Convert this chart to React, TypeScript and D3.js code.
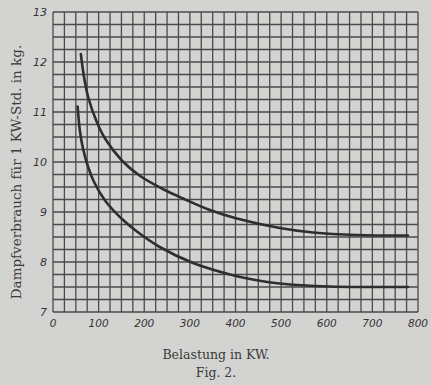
import { useRef, useEffect } from 'react'
import * as d3 from 'd3'

// Belastung in KW / Dampfverbrauch in kg
const upperLoad = [61, 68, 77, 96, 114, 151, 191, 245, 285, 344, 403, 497, 570, 666, 778]
const upperSteam = [12.16, 11.7, 11.3, 10.8, 10.47, 10.03, 9.72, 9.44, 9.27, 9.04, 8.87, 8.68, 8.59, 8.54, 8.53]
const lowerLoad = [54, 59, 66, 77, 90, 114, 150, 184, 234, 307, 388, 432, 497, 607, 778]
const lowerSteam = [11.11, 10.62, 10.26, 9.9, 9.6, 9.23, 8.87, 8.61, 8.3, 7.98, 7.75, 7.66, 7.57, 7.51, 7.5]

const xTicks = [0, 100, 200, 300, 400, 500, 600, 700, 800]
const yTicks = [7, 8, 9, 10, 11, 12, 13]

const W = 431
const H = 385

const App = () => {
  const svgRef = useRef<SVGSVGElement>(null)

  useEffect(() => {
    if (!svgRef.current) return
    const svg = d3.select(svgRef.current)
    svg.selectAll('*').remove()

    const margin = { top: 12, right: 13, bottom: 73, left: 53 }
    const innerW = W - margin.left - margin.right
    const innerH = H - margin.top - margin.bottom

    svg.append('rect').attr('width', W).attr('height', H).attr('fill', '#d3d3d1')

    const x = d3.scaleLinear().domain([0, 800]).range([0, innerW])
    const y = d3.scaleLinear().domain([7, 13]).range([innerH, 0])

    const g = svg.append('g').attr('transform', `translate(${margin.left},${margin.top})`)

    // grid: 25 KW and 0.25 kg steps
    g.append('g')
      .selectAll('line')
      .data(d3.range(0, 801, 25))
      .join('line')
      .attr('x1', d => x(d))
      .attr('x2', d => x(d))
      .attr('y1', 0)
      .attr('y2', innerH)
      .attr('stroke', '#4a4a4a')
      .attr('stroke-width', 1.3)

    g.append('g')
      .selectAll('line')
      .data(d3.range(7, 13.001, 0.25))
      .join('line')
      .attr('x1', 0)
      .attr('x2', innerW)
      .attr('y1', d => y(d))
      .attr('y2', d => y(d))
      .attr('stroke', '#4a4a4a')
      .attr('stroke-width', 1.3)

    const line = d3.line<[number, number]>()
      .x(d => x(d[0]))
      .y(d => y(d[1]))
      .curve(d3.curveCatmullRom.alpha(0.5))

    const curves = [
      upperLoad.map((l, i) => [l, upperSteam[i]] as [number, number]),
      lowerLoad.map((l, i) => [l, lowerSteam[i]] as [number, number]),
    ]

    g.selectAll('path.curve')
      .data(curves)
      .join('path')
      .attr('class', 'curve')
      .attr('fill', 'none')
      .attr('stroke', '#2e2e2e')
      .attr('stroke-width', 2.6)
      .attr('stroke-linecap', 'round')
      .attr('d', d => line(d))

    // tick labels (hand lettered, italic)
    g.append('g')
      .selectAll('text')
      .data(xTicks)
      .join('text')
      .attr('x', d => x(d))
      .attr('y', innerH + 15)
      .attr('text-anchor', 'middle')
      .attr('font-family', 'DejaVu Sans')
      .attr('font-style', 'italic')
      .attr('font-size', 10.5)
      .attr('fill', '#333')
      .text(d => d)

    g.append('g')
      .selectAll('text')
      .data(yTicks)
      .join('text')
      .attr('x', -6)
      .attr('y', d => y(d) + 4)
      .attr('text-anchor', 'end')
      .attr('font-family', 'DejaVu Sans')
      .attr('font-style', 'italic')
      .attr('font-size', 11)
      .attr('fill', '#333')
      .text(d => d)

    svg.append('text')
      .attr('transform', `translate(21,172) rotate(-90)`)
      .attr('text-anchor', 'middle')
      .attr('font-family', 'DejaVu Serif')
      .attr('font-size', 13.5)
      .attr('fill', '#3a3a3a')
      .text('Dampfverbrauch für 1 KW-Std. in kg.')

    svg.append('text')
      .attr('x', 216)
      .attr('y', 359)
      .attr('text-anchor', 'middle')
      .attr('font-family', 'DejaVu Serif')
      .attr('font-size', 12.5)
      .attr('fill', '#3a3a3a')
      .text('Belastung in KW.')

    svg.append('text')
      .attr('x', 216)
      .attr('y', 377)
      .attr('text-anchor', 'middle')
      .attr('font-family', 'DejaVu Serif')
      .attr('font-size', 12.5)
      .attr('fill', '#3a3a3a')
      .text('Fig. 2.')
  }, [])

  return (
    <svg
      ref={svgRef}
      width={W}
      height={H}
      style={{ position: 'absolute', left: 0, top: 0 }}
    />
  )
}

export default App
